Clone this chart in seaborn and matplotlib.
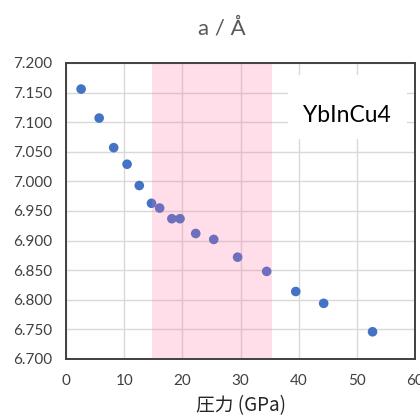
import matplotlib
matplotlib.use("Agg")
import matplotlib.pyplot as plt
import seaborn as sns
import pandas as pd
from matplotlib.patches import Rectangle

# Data
pressure_gpa = [2.6, 5.7, 8.2, 10.5, 12.6, 14.7, 16.1, 18.2, 19.6, 22.3, 25.4, 29.5, 34.5, 39.5, 44.3, 52.7]
lattice_a = [7.156, 7.107, 7.057, 7.029, 6.993, 6.963, 6.955, 6.937, 6.937, 6.912, 6.902, 6.872, 6.848, 6.814, 6.794, 6.746]
highlight_range = [14.7, 35.4]
x_ticks = [0, 10, 20, 30, 40, 50, 60]
y_ticks = [6.700, 6.750, 6.800, 6.850, 6.900, 6.950, 7.000, 7.050, 7.100, 7.150, 7.200]
title_text = "a / Å"
xlabel_text = "圧力 (GPa)"
label_text = "YbInCu4"

df = pd.DataFrame({"p": pressure_gpa, "a": lattice_a})

sns.set_style("white")
plt.rcParams["font.family"] = ["Lato", "Noto Sans CJK JP", "DejaVu Sans"]

fig = plt.figure(figsize=(4.2, 4.16), dpi=100)
ax = fig.add_axes([66/420, 57/416, (415-66)/420, (359-63)/416])

sns.scatterplot(data=df, x="p", y="a", ax=ax, color="#4472C4", s=48,
                edgecolor="none", linewidth=0, zorder=2, legend=False)

ax.axvspan(highlight_range[0], highlight_range[1], color="#FF69A0", alpha=0.22,
           lw=0, zorder=3)

ax.set_xlim(x_ticks[0], x_ticks[-1])
ax.set_ylim(y_ticks[0], y_ticks[-1])
ax.set_xticks(x_ticks)
ax.set_yticks(y_ticks)
ax.set_xticklabels([str(t) for t in x_ticks])
ax.set_yticklabels([f"{t:.3f}" for t in y_ticks])
ax.tick_params(axis="both", length=0, labelsize=11, labelcolor="#404040")
ax.tick_params(axis="y", pad=10)
ax.tick_params(axis="x", pad=11)

ax.set_axisbelow(True)
ax.grid(True, color="#D9D9D9", linewidth=1.0)

for sp in ax.spines.values():
    sp.set_visible(True)
    sp.set_color("#404040")
    sp.set_linewidth(1.4)
    sp.set_zorder(5)

ax.set_xlabel(xlabel_text, fontsize=13.5, color="#262626", labelpad=5,
              family=["Noto Sans CJK JP", "DejaVu Sans"])
ax.set_ylabel("")

# label box
to_ax = ax.transAxes
ax.add_patch(Rectangle(((288-66)/349, (359-139)/296), (407-288)/349, (139-75)/296,
                       transform=to_ax, facecolor="white", edgecolor="none", zorder=1))
ax.text((347-66)/349, (359-115)/296, label_text, transform=to_ax, ha="center",
        va="center", fontsize=16.5, color="black", zorder=6)

fig.text(222/420, 1-28/416, title_text, ha="center", va="center", fontsize=16,
         color="#595959")

fig.savefig("out.png", dpi=100)
